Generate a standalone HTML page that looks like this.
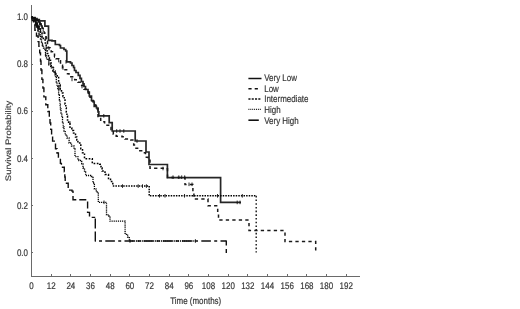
<!DOCTYPE html>
<html><head><meta charset="utf-8"><style>
html,body{margin:0;padding:0;background:#fff;}
svg{display:block;will-change:transform;}
text{text-rendering:geometricPrecision;font-family:"Liberation Sans",sans-serif;font-size:9.6px;fill:#333;stroke:#444;stroke-width:0.2px;}
</style></head><body>
<svg width="520" height="309" viewBox="0 0 520 309">
<rect width="520" height="309" fill="#fff"/>
<g>
<g stroke="#6a6a6a" stroke-width="1" fill="none" shape-rendering="crispEdges">
<line x1="31.5" y1="5" x2="31.5" y2="277"/>
<line x1="31" y1="276.5" x2="360" y2="276.5"/>
<line x1="31.5" y1="252.6" x2="33.2" y2="252.6"/><line x1="31.5" y1="205.4" x2="33.2" y2="205.4"/><line x1="31.5" y1="158.3" x2="33.2" y2="158.3"/><line x1="31.5" y1="111.1" x2="33.2" y2="111.1"/><line x1="31.5" y1="64.0" x2="33.2" y2="64.0"/><line x1="31.5" y1="16.8" x2="33.2" y2="16.8"/><line x1="51.2" y1="276.5" x2="51.2" y2="274.3"/><line x1="70.8" y1="276.5" x2="70.8" y2="274.3"/><line x1="90.5" y1="276.5" x2="90.5" y2="274.3"/><line x1="110.2" y1="276.5" x2="110.2" y2="274.3"/><line x1="129.8" y1="276.5" x2="129.8" y2="274.3"/><line x1="149.5" y1="276.5" x2="149.5" y2="274.3"/><line x1="169.2" y1="276.5" x2="169.2" y2="274.3"/><line x1="188.8" y1="276.5" x2="188.8" y2="274.3"/><line x1="208.5" y1="276.5" x2="208.5" y2="274.3"/><line x1="228.2" y1="276.5" x2="228.2" y2="274.3"/><line x1="247.8" y1="276.5" x2="247.8" y2="274.3"/><line x1="267.5" y1="276.5" x2="267.5" y2="274.3"/><line x1="287.2" y1="276.5" x2="287.2" y2="274.3"/><line x1="306.9" y1="276.5" x2="306.9" y2="274.3"/><line x1="326.5" y1="276.5" x2="326.5" y2="274.3"/><line x1="346.2" y1="276.5" x2="346.2" y2="274.3"/>
</g>
<g><text transform="translate(28,255.9) scale(0.83,1)" text-anchor="end">0.0</text><text transform="translate(28,208.7) scale(0.83,1)" text-anchor="end">0.2</text><text transform="translate(28,161.6) scale(0.83,1)" text-anchor="end">0.4</text><text transform="translate(28,114.4) scale(0.83,1)" text-anchor="end">0.6</text><text transform="translate(28,67.3) scale(0.83,1)" text-anchor="end">0.8</text><text transform="translate(28,20.1) scale(0.83,1)" text-anchor="end">1.0</text><text transform="translate(31.5,289.2) scale(0.83,1)" text-anchor="middle">0</text><text transform="translate(51.2,289.2) scale(0.83,1)" text-anchor="middle">12</text><text transform="translate(70.8,289.2) scale(0.83,1)" text-anchor="middle">24</text><text transform="translate(90.5,289.2) scale(0.83,1)" text-anchor="middle">36</text><text transform="translate(110.2,289.2) scale(0.83,1)" text-anchor="middle">48</text><text transform="translate(129.8,289.2) scale(0.83,1)" text-anchor="middle">60</text><text transform="translate(149.5,289.2) scale(0.83,1)" text-anchor="middle">72</text><text transform="translate(169.2,289.2) scale(0.83,1)" text-anchor="middle">84</text><text transform="translate(188.8,289.2) scale(0.83,1)" text-anchor="middle">96</text><text transform="translate(208.5,289.2) scale(0.83,1)" text-anchor="middle">108</text><text transform="translate(228.2,289.2) scale(0.83,1)" text-anchor="middle">120</text><text transform="translate(247.8,289.2) scale(0.83,1)" text-anchor="middle">132</text><text transform="translate(267.5,289.2) scale(0.83,1)" text-anchor="middle">144</text><text transform="translate(287.2,289.2) scale(0.83,1)" text-anchor="middle">156</text><text transform="translate(306.9,289.2) scale(0.83,1)" text-anchor="middle">168</text><text transform="translate(326.5,289.2) scale(0.83,1)" text-anchor="middle">180</text><text transform="translate(346.2,289.2) scale(0.83,1)" text-anchor="middle">192</text></g>
<text transform="translate(195.7,303.6) scale(0.83,1)" text-anchor="middle">Time (months)</text>
<text transform="translate(11.3,141) rotate(-90) scale(1,0.84)" text-anchor="middle" style="font-size:9.45px">Survival Probability</text>
<g fill="none" stroke="#111">
<path d="M31.5,16.8 L33,17.5 H35 V18.5 H37 V19.5 H39.3 V20.8 H44.9 V26.2 H48.5 V40.3 H52 V40.8 H55.3 V44.5 H59.5 V45.5 H60.5 V48 H64 V49.5 H65.7 V51 H66.8 V61.8 H70.5 V63 H72 V65.5 H73.6 V67.5 H74.5 V70.5 H76 V72.5 H78.3 V75.4 H80 V78.3 H81.4 V81.5 H83 V83.8 H84 V86.5 H85.5 V89.5 H88 V92 H89.3 V96 H91.5 V100.5 H93.2 V102 H94.2 V106.5 H96.5 V108 H98 V111.8 H98.8 V115.8 H109.2 V122.6 H112.2 V131 H135.2 V141 H146 V152 H149 V164.5 H167.4 V177.6 H220.6 V202.4 H241" stroke-width="1.7" stroke="#262626"/>
<path d="M31.5,16.8 L33,18 H35 V19.5 H37 V20.5 H38.5 V22 H40 V24 H41.2 V26 H42.2 V28 H43.2 V30.5 H44.2 V33 H45.2 V35.5 H46 V38 H46.7 V41 H47.5 V44 H48.3 V47.5 H50 V49.5 H51.2 V51.5 H52.5 V53 H54.5 V56 H56 V58.5 H58.7 V60.5 H60.5 V65 H62.5 V67.8 H65 V69.5 H67.5 V73.5 H69 V76.5 H74.7 V79.4 H78 V82 H80.5 V85.2 H84 V89 H88.3 V93 H90 V97 H92.1 V100.8 H95 V105 H97 V108.5 H98 V116.3 H100.7 V121.4 H104.6 V123.3 H107 V125 H109.4 V127.2 H111 V130 H113.3 V134 H116.2 V135.9 H122 V136.5 H125 V138.8 H130.8 V139.8 H133.7 V144.7 H136 V148 H137.6 V150.5 H142.4 V152.4 H145.5 V157 H148 V160 H150 V168 H164 V168.5 H167.5 V177.2 H185 V184.3 H192.9 V191.5 H193.9 V198.8 H208 V205.5 H217.7 V212 H218.5 V219.8 H249 V230.3 H285 V241.2 H315.7 V252.5" stroke-dasharray="3.3,3.2" stroke-width="1.5" stroke="#1a1a1a" transform="translate(0,0.3)"/>
<path d="M31.5,16.8 L33,18 H34.5 V20 H36 V23 H37.5 V26 H39 V29 H40.5 V33 H42 V37 H43.5 V40 H45.3 V43 H46.2 V48 H47.1 V53.5 H48.5 V57 H49.4 V59.3 H50.5 V63 H51.2 V66.3 H52.9 V71 H55 V74 H57.2 V77.5 H58.6 V81 H59.4 V85 H60.2 V89.7 H61.5 V93 H63 V96.5 H64.2 V100 H65 V104 H65.8 V108 H66.3 V112 H66.9 V116 H67.5 V120 H68.6 V124 H70 V128 H71.8 V130.5 H73.5 V133 H75.5 V137 H76.8 V140 H77.9 V143 H80.8 V148.8 H82.5 V152.7 H84.5 V158.8 H92.3 V163.5 H99.7 V164.2 H101 V168 H102.1 V171 H105 V174.5 H108.5 V178.5 H110.5 V181.5 H112.8 V186.1" stroke-dasharray="1.7,1.5" stroke-width="1.5" stroke="#000"/>
<path d="M112.8,186.1 H149.2 V195.8 H256.2" stroke-dasharray="1.5,1.1" stroke-width="1.5" stroke="#000"/>
<path d="M256.2,195.8 V252.4" stroke-dasharray="1.6,2.1" stroke-width="1.4"/>
<path d="M31.5,16.8 L33,18.5 H34 V21 H35.5 V24 H36.5 V27 H38 V31 H39 V35 H40.5 V39 H41.5 V42 H42.4 V45 H43.5 V48 H44.7 V50 H45.5 V55 H46.5 V59.3 H47.8 V60 H48.8 V64 H50.7 V67.8 H53.6 V72.6 H55.5 V77.5 H56.3 V82 H57 V86 H57.8 V90 H58.6 V95 H59.4 V100 H60 V105 H60.4 V109 H61 V113 H61.8 V117.5 H62.5 V122 H63.2 V127 H64 V131 H65.2 V135 H67 V138 H69.1 V143 H71.5 V146 H74 V148.8 H75 V156.6 H77.9 V160 H78.8 V160.5 H81.7 V163.9 H83 V168 H84.5 V172 H85.6 V175.5 H91.5 V176.5 H93 V183 H94.4 V189.1 H96.3 V192 H98.3 V202.3 H106.5 V214.8 H109 V216.3 H110 V221.2 H125.1 V234.3 H127.6 V237 H129.3 V241 H195.4" stroke-dasharray="1.2,0.9" stroke-width="1.3" stroke="#000"/>
<path d="M31.5,16.8 L32.4,20.5 H33.5 V25 H34.9 V30.2 H36.5 V36 H38.1 V41.6 H38.9 V46.4 H39.7 V52.9 H40.5 V61 H41 V70 H41.9 V79.4 H42.9 V88 H43.9 V96.9 H45.8 V104.7 H47.8 V111.5 H49.3 V117.8 H50 V123 H50.7 V129.4 H51.6 V135 H52.6 V141.1 H55.5 V148.8 H57 V153 H58.4 V158.5 H60.4 V163.4 H61.4 V167.3 H64.3 V171.7 H64.8 V177 H65.2 V183.3 H68.2 V190.1 H72 V191.1 H73 V199.8 H86.8 V200 H87.6 V212.4 H89.5 V217.4 H95.2" stroke-dasharray="7,3" stroke-width="1.4"/>
<path d="M31.5,16.8 L33,18 H35 V19.5 H37 V20.5 H38.5 V22 H40 V24 H41.2 V26 H42.2 V28 M31.5,16.8 L33,18 H34.5 V20 H36 V23 H37.5 V26 H39 V29 H40.5 V33 M31.5,16.8 L33,18.5 H34 V21 H35.5 V24 H36.5 V27 H38 V31" stroke-width="1.3"/>
<path d="M95.3,217.4 V241.6" stroke-dasharray="10,3" stroke-dashoffset="-1" stroke-width="1.4"/>
<path d="M95.2,241 H226.3" stroke-dasharray="3,3.3,9.6,3.3" stroke-dashoffset="15.4" stroke-width="1.5"/>
<path d="M226.3,240.4 V253" stroke-width="1.4" stroke-dasharray="5,3.6"/>
</g>
<g stroke="#111" stroke-width="0.9"><line x1="103.8" y1="114.0" x2="103.8" y2="117.6"/><line x1="116.7" y1="129.2" x2="116.7" y2="132.8"/><line x1="120" y1="129.2" x2="120" y2="132.8"/><line x1="123.8" y1="129.2" x2="123.8" y2="132.8"/><line x1="137" y1="139.2" x2="137" y2="142.8"/><line x1="173" y1="175.39999999999998" x2="173" y2="179.0"/><line x1="178.8" y1="175.39999999999998" x2="178.8" y2="179.0"/><line x1="181.7" y1="175.39999999999998" x2="181.7" y2="179.0"/><line x1="184.7" y1="175.39999999999998" x2="184.7" y2="179.0"/><line x1="237.2" y1="200.6" x2="237.2" y2="204.20000000000002"/><line x1="240" y1="200.6" x2="240" y2="204.20000000000002"/><line x1="66" y1="60.0" x2="66" y2="63.599999999999994"/><line x1="163" y1="166.7" x2="163" y2="170.3"/><line x1="189" y1="182.5" x2="189" y2="186.10000000000002"/><line x1="192" y1="182.5" x2="192" y2="186.10000000000002"/><line x1="40" y1="22.2" x2="40" y2="25.8"/><line x1="43.2" y1="28.2" x2="43.2" y2="31.8"/><line x1="46" y1="36.2" x2="46" y2="39.8"/><line x1="49" y1="46.7" x2="49" y2="50.3"/><line x1="54.5" y1="54.2" x2="54.5" y2="57.8"/><line x1="58.7" y1="58.7" x2="58.7" y2="62.3"/><line x1="63" y1="66.2" x2="63" y2="69.8"/><line x1="72" y1="77.60000000000001" x2="72" y2="81.2"/><line x1="82" y1="84.7" x2="82" y2="88.3"/><line x1="37.5" y1="24.2" x2="37.5" y2="27.8"/><line x1="42" y1="35.2" x2="42" y2="38.8"/><line x1="46.2" y1="46.2" x2="46.2" y2="49.8"/><line x1="49.4" y1="57.5" x2="49.4" y2="61.099999999999994"/><line x1="55" y1="72.2" x2="55" y2="75.8"/><line x1="60" y1="85.2" x2="60" y2="88.8"/><line x1="70" y1="121.2" x2="70" y2="124.8"/><line x1="122.5" y1="184.29999999999998" x2="122.5" y2="187.9"/><line x1="138.2" y1="184.29999999999998" x2="138.2" y2="187.9"/><line x1="142.5" y1="184.29999999999998" x2="142.5" y2="187.9"/><line x1="146.4" y1="184.29999999999998" x2="146.4" y2="187.9"/><line x1="159.5" y1="194.0" x2="159.5" y2="197.60000000000002"/><line x1="165" y1="194.0" x2="165" y2="197.60000000000002"/><line x1="184.5" y1="194.0" x2="184.5" y2="197.60000000000002"/><line x1="217.5" y1="194.0" x2="217.5" y2="197.60000000000002"/><line x1="242.3" y1="194.0" x2="242.3" y2="197.60000000000002"/><line x1="35.5" y1="22.2" x2="35.5" y2="25.8"/><line x1="39" y1="33.2" x2="39" y2="36.8"/><line x1="42.4" y1="43.2" x2="42.4" y2="46.8"/><line x1="45.5" y1="53.2" x2="45.5" y2="56.8"/><line x1="48.8" y1="62.2" x2="48.8" y2="65.8"/><line x1="58.7" y1="85.2" x2="58.7" y2="88.8"/><line x1="195.4" y1="239.2" x2="195.4" y2="242.8"/><line x1="104" y1="200.5" x2="104" y2="204.10000000000002"/><line x1="130" y1="239.2" x2="130" y2="242.8"/></g>
<g stroke="#111" fill="none">
<line x1="248.4" y1="78.5" x2="261.5" y2="78.5" stroke-width="1.5"/>
<line x1="248.4" y1="88.8" x2="258" y2="88.8" stroke-width="1.5" stroke-dasharray="3.2,3.1"/>
<line x1="248.4" y1="99.1" x2="261.5" y2="99.1" stroke-width="1.5" stroke-dasharray="2.1,1.2"/>
<line x1="248.4" y1="109.3" x2="261.5" y2="109.3" stroke-width="1.2" stroke-dasharray="1,0.9" stroke="#222"/>
<line x1="248.4" y1="120.2" x2="258.8" y2="120.2" stroke-width="1.6"/>
</g>
<g>
<text transform="translate(264.2,81) scale(0.83,1)">Very Low</text>
<text transform="translate(264.2,92) scale(0.83,1)">Low</text>
<text transform="translate(264.2,102) scale(0.83,1)">Intermediate</text>
<text transform="translate(264.2,112.5) scale(0.83,1)">High</text>
<text transform="translate(264.2,123.5) scale(0.83,1)">Very High</text>
</g>
</g>
</svg>
</body></html>
